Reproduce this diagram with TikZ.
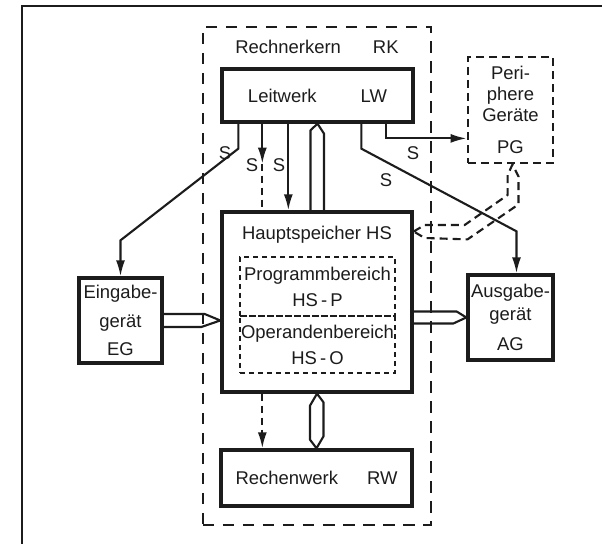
\documentclass[tikz,border=0pt]{standalone}
\usepackage{fontspec}
\setmainfont{Liberation Sans}
\usepackage{tikz}
\usetikzlibrary{arrows.meta,calc}
\definecolor{tinte}{HTML}{1C1C1C}

\begin{document}
\begin{tikzpicture}[x=0.2mm,y=-0.2mm,
  font=\fontsize{10.5}{12}\selectfont, color=tinte,
  block/.style={draw=tinte,line width=1.9pt,inner sep=0pt,align=center},
  bereich/.style={draw=tinte,line width=1pt,dash pattern=on 1mm off 0.8mm,inner sep=0pt,align=center},
  kern/.style={draw=tinte,line width=1.3pt,dash pattern=on 2.3mm off 1.7mm,inner sep=0pt},
  geraet/.style={draw=tinte,line width=1.6pt,dash pattern=on 1.6mm off 1mm,inner sep=0pt,align=center},
  signal/.style={line width=1.2pt,-{Latex[length=3.2mm,width=1.8mm]}},
  bus/.style={line width=1.2pt,line join=round}]
\useasboundingbox (0,0) rectangle (602,544);
\draw[line width=1.5pt] (22,544) -- (22,6) -- (602,6);

% Rechnerkern
\node[kern,minimum width=45.6mm,minimum height=99.6mm] (rk) at (317,276) {};
\node (rktitel) at (317,47) {Rechnerkern\hspace{6.4mm}RK};
\node[block,minimum width=38.2mm,minimum height=10.6mm] (lw) at (317.5,95.5) {Leitwerk\hspace{8.8mm}LW};
\node[block,fill=white,minimum width=38mm,minimum height=36mm] (hs) at (317,302) {};
\node (hstitel) at (317,235) {Hauptspeicher HS};
\node[bereich,minimum width=31mm,minimum height=11.8mm] (hsp) at (317.5,286.5) {Programmbereich\\[1mm]HS\,-\,P};
\node[bereich,minimum width=31mm,minimum height=11.4mm] (hso) at (317.5,344.5) {Operandenbereich\\[1mm]HS\,-\,O};
\node[block,minimum width=38.2mm,minimum height=11.2mm] (rw) at (316.5,478) {Rechenwerk\hspace{5.8mm}RW};

% Geraete
\node[block,minimum width=16.6mm,minimum height=17mm] (eg) at (120.5,320.5) {Eingabe-\\[1.4mm]gerät\\[1.4mm]EG};
\node[block,minimum width=17mm,minimum height=17mm] (ag) at (510.5,317.5) {Ausgabe-\\[0.5mm]gerät\\[1.8mm]AG};
\node[geraet,minimum width=17mm,minimum height=21.2mm] (pg) at (510.5,110) {Peri-\\phere\\Geräte\\[2.2mm]PG};

% Steuersignale
\draw[signal] (lw.south west) ++(18,0) -- ++(0,25) -- ($(eg.north)+(0,-36)$) -- (eg.north);
\draw[signal] (lw.south west) ++(42,0) coordinate (d0) -- ++(0,40) coordinate (d1);
\draw[line width=1.2pt,dash pattern=on 1.4mm off 1mm] (d1) -- (d1 |- hs.north);
\draw[signal,dash pattern=on 1.4mm off 1mm] (d1 |- hs.south) -- (d1 |- rw.north);
\draw[signal] (lw.south west) ++(68,0) coordinate (c0) -- (c0 |- hs.north);
\draw[signal] (lw.south west) ++(141,0) -- ++(0,25) -- ($(ag.north)+(6,-42)$) -- ($(ag.north)+(6,0)$);
\draw[signal] (lw.south west) ++(166,0) |- ($(pg.south west)+(0,-26)$);
\node (s1) at (225,153) {S};
\node (s2) at (252,165) {S};
\node (s3) at (279,165) {S};
\node (s4) at (413,153) {S};
\node (s5) at (386,180) {S};

% Datenwege
\draw[bus] (hs.north) ++(-6.5,0) -- ++(0,-80) -- (lw.south) -- ++(6.5,10) -- ++(0,80);
\draw[bus] (eg.east) ++(0,-6.5) -- ++(41,0) -- (eg.east -| hs.west) -- ++(-19,6.5) -- ($(eg.east)+(0,6.5)$);
\draw[bus] (hs.east |- ag.west) ++(0,-6) -- ++(43,0) -- (ag.west) -- ++(-13,6) -- ($(hs.east |- ag.west)+(0,6)$);
\draw[bus] (hs.south) -- ++(-7,12) -- ++(0,34) -- (rw.north) -- ++(7,-12) -- ++(0,-34) -- cycle;
\coordinate (pgb) at ($(hs.east)+(0,-70.5)$);
\coordinate (pgt) at ($(pg.south)+(2,0)$);
\draw[bus,dash pattern=on 1.6mm off 1mm] (pgb) -- ++(11,-6.5) -- ++(40,0) -- ++(43,-30) -- ++(0,-20) -- (pgt)
  -- ++(6,12) -- ++(0,28) -- ++(-51,35) -- ($(pgb)+(11,6.5)$) -- cycle;
\end{tikzpicture}
\end{document}
